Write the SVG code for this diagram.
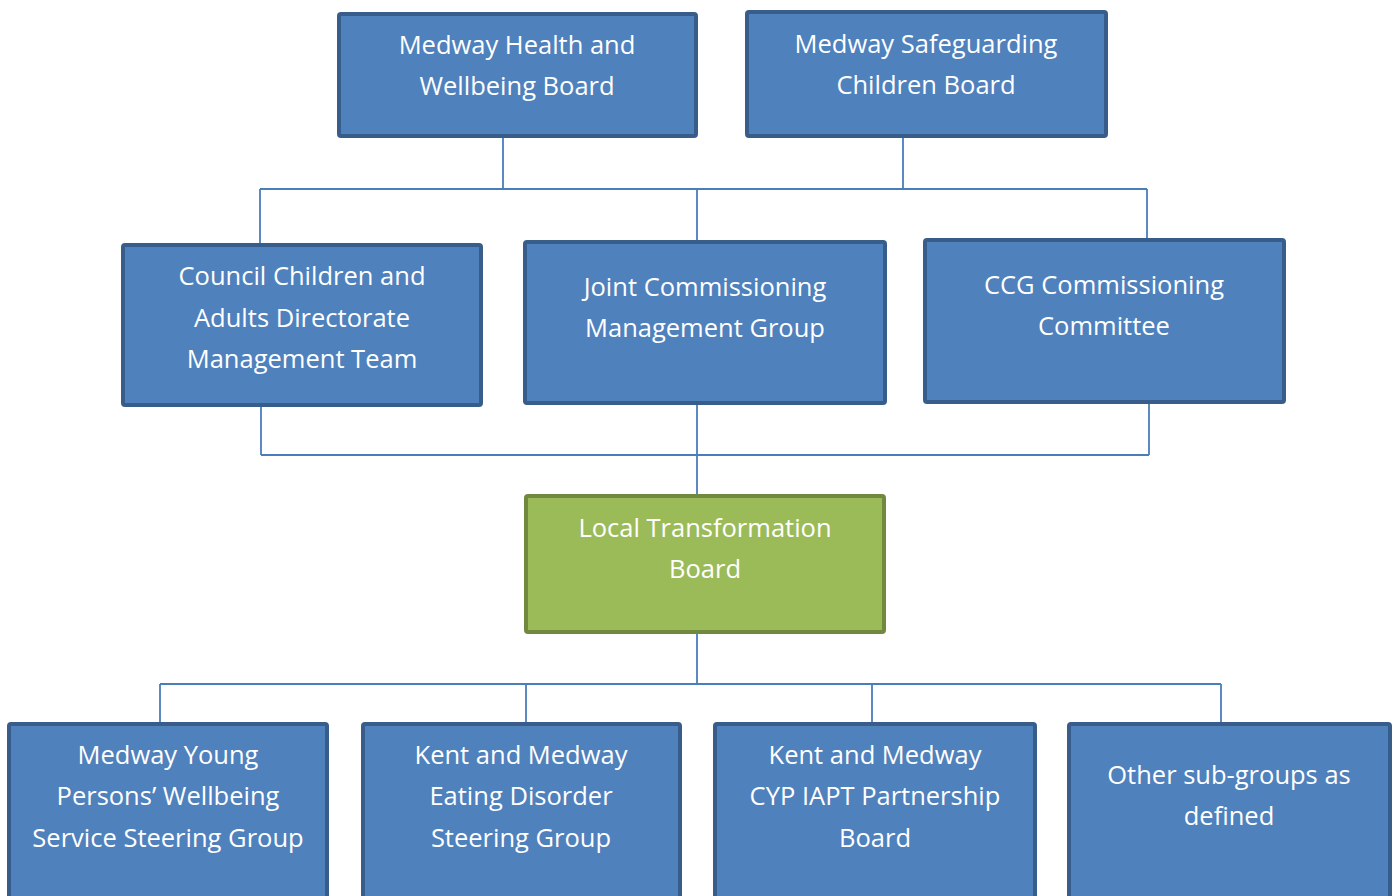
<svg xmlns="http://www.w3.org/2000/svg" width="1393" height="896" viewBox="0 0 1393 896">
<style>
.box{fill:#4F81BD;stroke:#385D8A;stroke-width:4}
.green{fill:#9BBB59;stroke:#71893F;stroke-width:4}
.lbl{font-family:"Open Sans","Noto Sans",sans-serif;font-size:25.5px;fill:#FFFFFF;text-anchor:middle}
.conn{fill:none;stroke:#4A7EBB;stroke-width:1.8}
</style>
<rect width="1393" height="896" fill="#FFFFFF"/>
<g id="connectors" class="conn">
<path d="M503 138V189M903 138V189M260 189H1147M260 189V243M697 189V240M1147 189V238"/>
<path d="M261 407V455M261 455H1149M1149 404V455M697 405V494"/>
<path d="M697 634V684M160 684H1221M160 684V722M526 684V722M872 684V722M1221 684V722"/>
</g>
<g id="n1"><rect class="box" x="339" y="14" width="357" height="122" rx="2"/>
<text class="lbl" x="517" y="54">Medway Health and</text><text class="lbl" x="517" y="95">Wellbeing Board</text></g>
<g id="n2"><rect class="box" x="747" y="12" width="359" height="124" rx="2"/>
<text class="lbl" x="926" y="53">Medway Safeguarding</text><text class="lbl" x="926" y="94">Children Board</text></g>
<g id="n3"><rect class="box" x="123" y="245" width="358" height="160" rx="2"/>
<text class="lbl" x="302" y="285">Council Children and</text><text class="lbl" x="302" y="327">Adults Directorate</text><text class="lbl" x="302" y="368">Management Team</text></g>
<g id="n4"><rect class="box" x="525" y="242" width="360" height="161" rx="2"/>
<text class="lbl" x="705" y="296">Joint Commissioning</text><text class="lbl" x="705" y="337">Management Group</text></g>
<g id="n5"><rect class="box" x="925" y="240" width="359" height="162" rx="2"/>
<text class="lbl" x="1104" y="294">CCG Commissioning</text><text class="lbl" x="1104" y="335">Committee</text></g>
<g id="n6"><rect class="green" x="526" y="496" width="358" height="136" rx="2"/>
<text class="lbl" x="705" y="537">Local Transformation</text><text class="lbl" x="705" y="578">Board</text></g>
<g id="n7"><rect class="box" x="9" y="724" width="318" height="200" rx="2"/>
<text class="lbl" x="168" y="764">Medway Young</text><text class="lbl" x="168" y="805">Persons’ Wellbeing</text><text class="lbl" x="168" y="847">Service Steering Group</text></g>
<g id="n8"><rect class="box" x="363" y="724" width="317" height="200" rx="2"/>
<text class="lbl" x="521" y="764">Kent and Medway</text><text class="lbl" x="521" y="805">Eating Disorder</text><text class="lbl" x="521" y="847">Steering Group</text></g>
<g id="n9"><rect class="box" x="715" y="724" width="320" height="200" rx="2"/>
<text class="lbl" x="875" y="764">Kent and Medway</text><text class="lbl" x="875" y="805">CYP IAPT Partnership</text><text class="lbl" x="875" y="847">Board</text></g>
<g id="n10"><rect class="box" x="1069" y="724" width="321" height="200" rx="2"/>
<text class="lbl" x="1229" y="784">Other sub-groups as</text><text class="lbl" x="1229" y="825">defined</text></g>
</svg>
